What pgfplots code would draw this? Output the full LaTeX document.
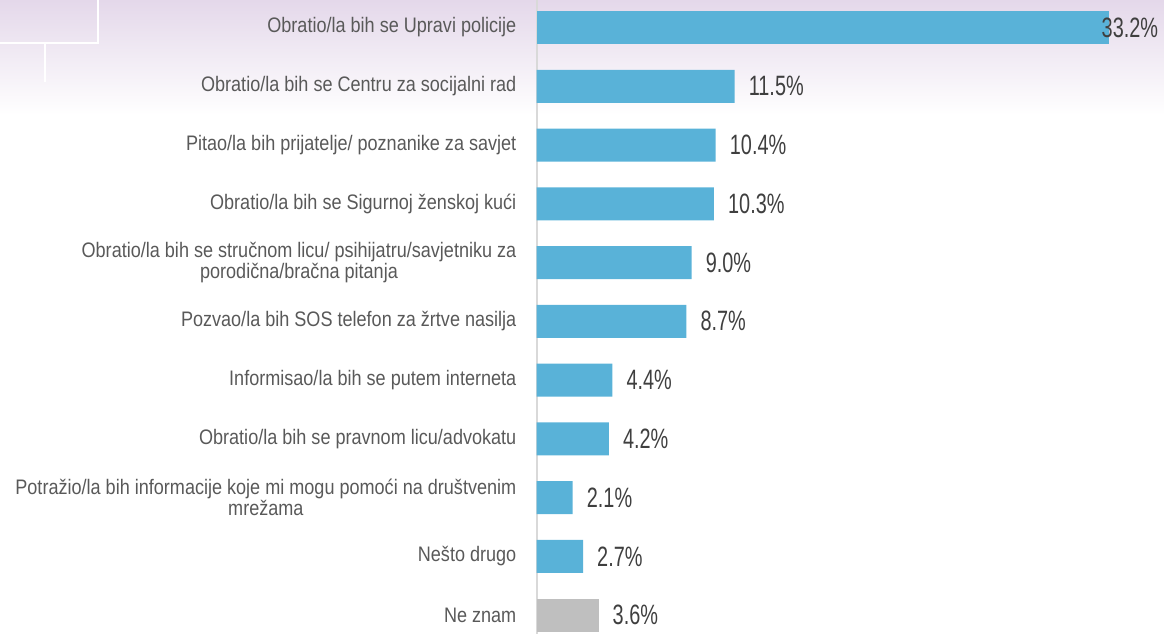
\documentclass[border=0pt]{standalone}
\usepackage{fontspec}
\usepackage{pgfplots}
\pgfplotsset{compat=1.18}
\newfontfamily\catfont[FakeStretch=0.86]{Liberation Sans}
\newfontfamily\valfont[FakeStretch=0.71]{Liberation Sans}
\definecolor{barblue}{HTML}{59B2D8}
\definecolor{bargray}{HTML}{BFBFBF}
\definecolor{catgray}{HTML}{595959}
\definecolor{valgray}{HTML}{3F3F3F}
\definecolor{axisgray}{HTML}{D9D9D9}
\definecolor{lav}{HTML}{E4D8EA}
\begin{document}
\begin{tikzpicture}[x=1bp,y=1bp]
\path[use as bounding box] (0,0) rectangle (1164,634);
\shade[top color=lav, bottom color=white] (0,519) rectangle (1164,634);
\draw[white, line width=2bp] (0,591) -- (98,591) -- (98,634);
\draw[white, line width=2bp] (45,591) -- (45,552);
\begin{axis}[
  at={(536.5bp,0bp)}, anchor=south west,
  scale only axis, width=627.5bp, height=634bp,
  xmin=0, xmax=36.42, ymin=-0.468, ymax=10.32, y dir=reverse,
  xbar, bar width=33bp,
  ytick={0,1,2,3,4,5,6,7,8,9,10},
  yticklabels={
    {Obratio/la bih se Upravi policije},
    {Obratio/la bih se Centru za socijalni rad},
    {Pitao/la bih prijatelje/ poznanike za savjet},
    {Obratio/la bih se Sigurnoj ženskoj kući},
    {Obratio/la bih se stručnom licu/ psihijatru/savjetniku za\\porodična/bračna pitanja},
    {Pozvao/la bih SOS telefon za žrtve nasilja},
    {Informisao/la bih se putem interneta},
    {Obratio/la bih se pravnom licu/advokatu},
    {Potražio/la bih informacije koje mi mogu pomoći na društvenim\\mrežama},
    {Nešto drugo},
    {Ne znam}},
  axis x line=none, axis y line*=left,
  y axis line style={draw=axisgray, line width=2bp},
  major tick length=0pt,
  yticklabel style={font=\catfont\fontsize{21bp}{21bp}\selectfont, align=center, text=catgray, inner sep=0pt, xshift=-20bp},
  clip=false,
  point meta=x,
  nodes near coords={\pgfmathprintnumber[fixed,precision=1,fixed zerofill,assume math mode=true]{\pgfplotspointmeta}\%},
  nodes near coords style={font=\valfont\fontsize{28bp}{28bp}\selectfont, text=valgray, inner sep=0pt, anchor=west, xshift=14bp},
]
\addplot[fill=barblue, draw=none, bar shift=0pt, nodes near coords style={xshift=-21bp}] coordinates {(33.2,0)};
\addplot[fill=barblue, draw=none, bar shift=0pt] coordinates {
(11.5,1) (10.4,2) (10.3,3) (9.0,4) (8.7,5) (4.4,6) (4.2,7) (2.1,8) (2.7,9)};
\addplot[fill=bargray, draw=none, bar shift=0pt] coordinates {(3.6,10)};
\end{axis}
\end{tikzpicture}
\end{document}
